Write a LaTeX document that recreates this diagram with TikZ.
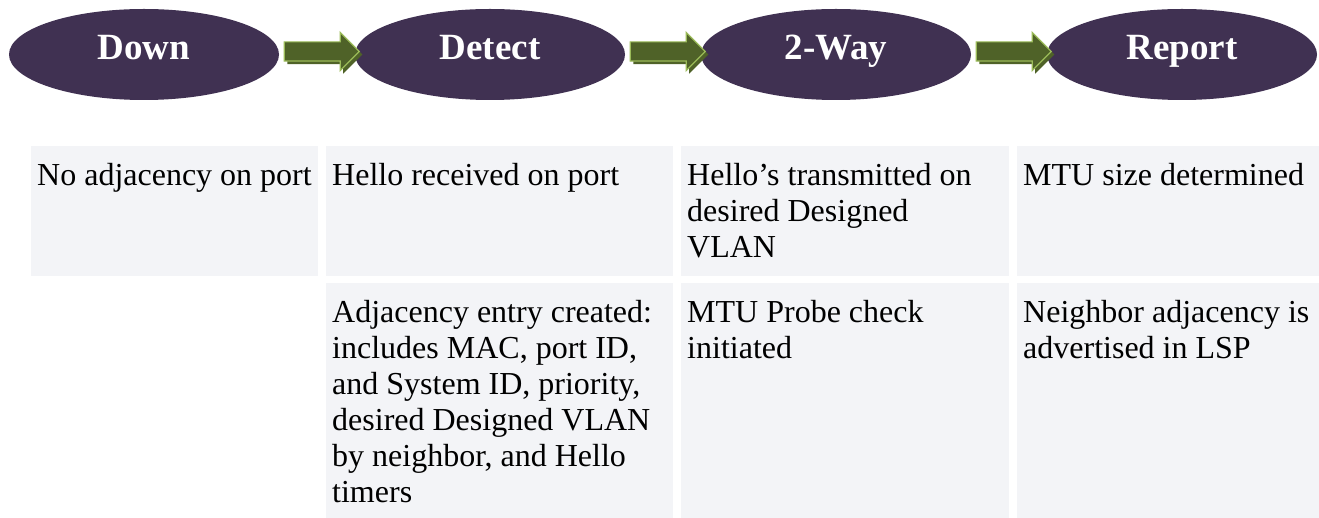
\documentclass[tikz,border=0pt]{standalone}
\usepackage{fontspec}
\setmainfont{Liberation Serif}
\usetikzlibrary{calc,shapes.geometric,shapes.arrows,shadows}

\definecolor{statepurple}{HTML}{403152}
\definecolor{arrowdark}{HTML}{4F6228}
\definecolor{arrowlight}{HTML}{9BBB59}
\definecolor{cellgray}{HTML}{F3F4F7}

\tikzset{
  state/.style={ellipse,fill=statepurple,text=white,inner sep=0pt,
    minimum width=270pt,minimum height=91pt,text height=25pt,text depth=14pt,
    font=\fontsize{37}{40}\selectfont\bfseries},
  stepArrow/.style={single arrow,fill=arrowdark,draw=arrowlight,line width=1.2pt,
    inner xsep=0pt,inner ysep=9pt,minimum height=75pt,single arrow head extend=9.5pt,
    drop shadow={shadow xshift=3pt,shadow yshift=-3pt,fill=arrowdark,opacity=1}},
  cell/.style={fill=cellgray,inner sep=0pt,anchor=north west},
  celltext/.style={anchor=north west,align=left,inner xsep=6pt,inner ysep=17pt,
    font=\fontsize{32}{36}\selectfont}
}

\begin{document}
\begin{tikzpicture}[x=1pt,y=-1pt]
\useasboundingbox (0,0) rectangle (1319,518);

% states
\node[state] (down) at (144,54.5) {Down};
\node[state] (detect) at (490,54.5) {Detect};
\node[state] (twoway) at (836,54.5) {2-Way};
\node[state] (report) at (1182,54.5) {Report};

% block arrows between states
\node[stepArrow,yshift=3pt] (a1) at ($(down.east)!0.5!(detect.west)$) {};
\node[stepArrow,yshift=3pt] (a2) at ($(detect.east)!0.5!(twoway.west)$) {};
\node[stepArrow,yshift=3pt] (a3) at ($(twoway.east)!0.5!(report.west)$) {};

% first row of cells
\node[cell,minimum width=287pt,minimum height=130pt] (c11) at (31,146) {};
\node[cell,minimum width=347pt,minimum height=130pt] (c12) at (326,146) {};
\node[cell,minimum width=328pt,minimum height=130pt] (c13) at (681,146) {};
\node[cell,minimum width=302pt,minimum height=130pt] (c14) at (1017,146) {};

% second row of cells
\node[cell,minimum width=347pt,minimum height=235pt] (c22) at (326,283) {};
\node[cell,minimum width=328pt,minimum height=235pt] (c23) at (681,283) {};
\node[cell,minimum width=302pt,minimum height=235pt] (c24) at (1017,283) {};

% cell texts
\node[celltext] (t11) at (c11.north west) {No adjacency on port};
\node[celltext] (t12) at (c12.north west) {Hello received on port};
\node[celltext] (t13) at (c13.north west) {Hello’s transmitted on\\desired Designed\\VLAN};
\node[celltext] (t14) at (c14.north west) {MTU size determined};
\node[celltext] (t22) at (c22.north west) {Adjacency entry created:\\includes MAC, port ID,\\and System ID, priority,\\desired Designed VLAN\\by neighbor, and Hello\\timers};
\node[celltext] (t23) at (c23.north west) {MTU Probe check\\initiated};
\node[celltext] (t24) at (c24.north west) {Neighbor adjacency is\\advertised in LSP};
\end{tikzpicture}
\end{document}
